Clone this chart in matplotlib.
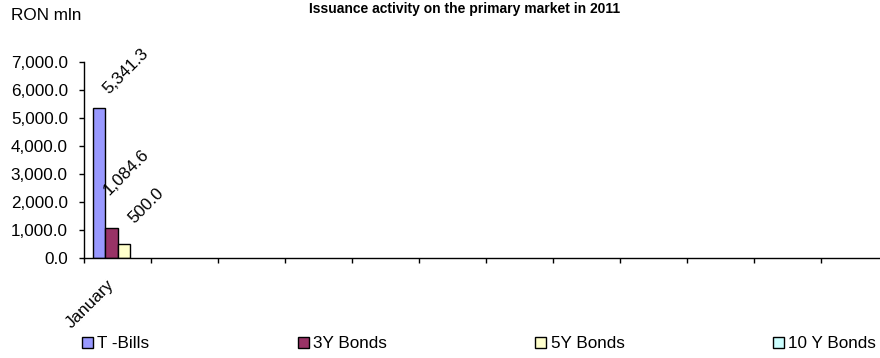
import numpy as np
import matplotlib
matplotlib.use("Agg")
import matplotlib.pyplot as plt
from matplotlib.patches import Patch
from matplotlib.ticker import FuncFormatter, FixedLocator

plt.rcParams['font.family'] = ['Liberation Sans', 'DejaVu Sans']

# ---- data ----
categories = ["January", "", "", "", "", "", "", "", "", "", "", ""]
series_names = ["T -Bills", "3Y Bonds", "5Y Bonds", "10 Y Bonds"]
t_bills = [5341.3] + [np.nan] * 11
bonds_3y = [1084.6] + [np.nan] * 11
bonds_5y = [500.0] + [np.nan] * 11
bonds_10y = [np.nan] * 12
y_ticks = [0, 1000, 2000, 3000, 4000, 5000, 6000, 7000]

# ---- styles ----
colors = ["#9999FF", "#993366", "#FFFFCC", "#CCFFFF"]
# label centre offsets (pixels) from the top-centre of each bar
label_offsets = [(27, 37), (15, 55), (23, 38), (20, 38)]
FS = 12.3

W, H = 880, 358
fig = plt.figure(figsize=(W / 100, H / 100), dpi=100)
ax = fig.add_axes([84 / W, 1 - 258 / H, (888 - 84) / W, (258 - 62) / H])

n = len(categories)
bw = 1 / 5.5
all_series = [t_bills, bonds_3y, bonds_5y, bonds_10y]
for j, vals in enumerate(all_series):
    vals = np.array(vals, dtype=float)
    x = np.arange(n) + 0.5 + (j - 1.5) * bw
    ok = np.isfinite(vals)
    if ok.any():
        ax.bar(x[ok], vals[ok], width=bw, color=colors[j],
               edgecolor='black', linewidth=1.0, label=series_names[j])
    for xi, v in zip(x[ok], vals[ok]):
        ax.annotate(f"{v:,.1f}", (xi, v), xytext=label_offsets[j],
                    textcoords='offset pixels', ha='center', va='center',
                    rotation=45, fontsize=FS)

ax.set_xlim(0, n)
ax.set_ylim(0, 7000)
ax.set_yticks(y_ticks)
ax.yaxis.set_major_formatter(FuncFormatter(lambda v, p: f"{v:,.1f}"))
ax.tick_params(axis='y', direction='out', length=3.6, width=1, pad=8,
               labelsize=FS)

ax.xaxis.set_major_locator(FixedLocator(np.arange(n + 1)))
ax.xaxis.set_minor_locator(FixedLocator(np.arange(n) + 0.5))
ax.set_xticklabels([""] * (n + 1))
ax.set_xticklabels(categories, minor=True, rotation=45, ha='right', va='top',
                   fontsize=FS)
ax.tick_params(axis='x', which='major', direction='out', length=3.6, width=1)
ax.tick_params(axis='x', which='minor', length=0, pad=13.5)

for s in ['top', 'right']:
    ax.spines[s].set_visible(False)
for s in ['left', 'bottom']:
    ax.spines[s].set_linewidth(1.0)

handles = [Patch(facecolor=c, edgecolor='black', linewidth=1.0) for c in colors]
fig.legend(handles, series_names, loc='center left',
           bbox_to_anchor=(82 / W, 1 - 344 / H), ncol=4, frameon=False,
           fontsize=FS, handlelength=0.65, handleheight=0.65,
           handletextpad=0.25, columnspacing=8.68, borderpad=0,
           borderaxespad=0)

fig.text(464.5 / W, 1 - 12.5 / H, "Issuance activity on the primary market in 2011",
         ha='center', va='baseline', fontsize=10, fontweight='bold')
fig.text(11 / W, 1 - 20.5 / H, "RON mln", ha='left', va='baseline', fontsize=FS)

fig.savefig("out.png", dpi=100)
